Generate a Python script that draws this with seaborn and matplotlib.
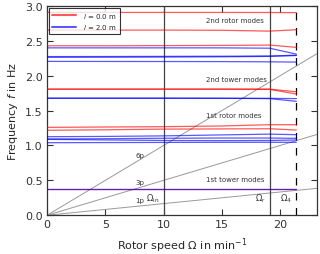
import numpy as np
import pandas as pd
import matplotlib
matplotlib.use('Agg')
import matplotlib.pyplot as plt
import seaborn as sns

# --- data ---
omega = [0, 5, 10, 15, 19.1, 21.4]

# l = 0.0 m
red_modes = {
    'r_t1': [0.38, 0.38, 0.38, 0.38, 0.38, 0.38],
    'r_r1a': [1.26, 1.265, 1.27, 1.28, 1.298, 1.298],
    'r_r1b': [1.218, 1.225, 1.235, 1.238, 1.24, 1.222],
    'r_t2a': [1.808, 1.808, 1.808, 1.808, 1.808, 1.77],
    'r_t2b': [1.808, 1.808, 1.808, 1.808, 1.805, 1.738],
    'r_r2a': [2.43, 2.43, 2.432, 2.435, 2.44, 2.407],
    'r_r2b': [2.655, 2.655, 2.655, 2.652, 2.64, 2.66],
    'r_r2c': [2.908, 2.908, 2.908, 2.908, 2.907, 2.905],
}
# l = 2.0 m
blue_modes = {
    'b_t1': [0.381, 0.381, 0.381, 0.381, 0.381, 0.381],
    'b_r1a': [1.126, 1.13, 1.138, 1.152, 1.163, 1.155],
    'b_r1b': [1.093, 1.097, 1.104, 1.107, 1.107, 1.103],
    'b_r1c': [1.088, 1.08, 1.072, 1.07, 1.072, 1.079],
    'b_r1d': [1.04, 1.042, 1.044, 1.046, 1.046, 1.046],
    'b_t2a': [1.676, 1.676, 1.676, 1.676, 1.676, 1.672],
    'b_t2b': [1.68, 1.68, 1.68, 1.678, 1.672, 1.633],
    'b_r2a': [2.206, 2.205, 2.204, 2.203, 2.2, 2.196],
    'b_r2b': [2.265, 2.266, 2.268, 2.272, 2.278, 2.29],
    'b_r2c': [2.275, 2.276, 2.278, 2.28, 2.283, 2.295],
    'b_r2d': [2.40, 2.40, 2.40, 2.40, 2.395, 2.31],
}

harmonics = [1, 3, 6]
harmonic_labels = ['1p', '3p', '6p']
omega_marks = [10.0, 19.1, 21.4]
omega_labels = [r'$\Omega_{\rm in}$', r'$\Omega_{\rm r}$', r'$\Omega_{4}$']
mode_labels = ['1st tower modes', '1st rotor modes', '2nd tower modes', '2nd rotor modes']
mode_label_y = [0.515, 1.435, 1.95, 2.80]

# --- style ---
sns.set_style('ticks')
plt.rcParams['font.family'] = ['DejaVu Sans']
plt.rcParams.update({
    'xtick.direction': 'in', 'ytick.direction': 'in',
    'xtick.top': True, 'ytick.right': True,
    'axes.edgecolor': '#333333', 'axes.linewidth': 0.9,
    'xtick.color': '#333333', 'ytick.color': '#333333',
    'xtick.major.size': 4, 'ytick.major.size': 4,
})

fig = plt.figure(figsize=(3.2, 2.55), dpi=100)
ax = fig.add_axes([0.147, 0.152, 0.843, 0.8205])

# harmonic excitation lines
om_full = np.array([0, 23.15])
for n, lab in zip(harmonics, harmonic_labels):
    ax.plot(om_full, n * om_full / 60, color='#999999', lw=0.7, zorder=1)
    ax.text(7.6, n * 7.6 / 60 + 0.07, lab, fontsize=5, color='#333333')

# modes
for i, (k, v) in enumerate(red_modes.items()):
    sns.lineplot(x=omega, y=v, ax=ax, color='red', lw=0.9, alpha=0.65,
                 label=r'$l$ = 0.0 m' if i == 0 else None, zorder=3)
for i, (k, v) in enumerate(blue_modes.items()):
    sns.lineplot(x=omega, y=v, ax=ax, color='blue', lw=0.9, alpha=0.65,
                 label=r'$l$ = 2.0 m' if i == 0 else None, zorder=3)

# operating points
ax.axvline(omega_marks[0], color='#444444', lw=0.9, zorder=2)
ax.axvline(omega_marks[1], color='#444444', lw=0.9, zorder=2)
ax.axvline(omega_marks[2], color='black', lw=0.9, ls=(0, (6, 6)), zorder=2)
for xm, lab in zip(omega_marks, omega_labels):
    ax.text(xm - 0.35, 0.25, lab, fontsize=6, color='#333333', ha='right', va='center')

for lab, y in zip(mode_labels, mode_label_y):
    ax.text(13.6, y, lab, fontsize=5, color='#333333', va='center')

ax.set_xlim(0, 23.15)
ax.set_ylim(0, 3.0)
ax.set_xticks([0, 5, 10, 15, 20])
ax.set_yticks([0, 0.5, 1.0, 1.5, 2.0, 2.5, 3.0])
ax.set_yticklabels(['0.0', '0.5', '1.0', '1.5', '2.0', '2.5', '3.0'])
ax.tick_params(labelsize=8, pad=3)
ax.set_xlabel(r'Rotor speed $\Omega$ in min$^{-1}$', fontsize=8)
ax.set_ylabel(r'Frequency $f$ in Hz', fontsize=8)

leg = ax.legend(loc='upper left', fontsize=5, frameon=True, fancybox=False,
                edgecolor='black', handlelength=3.5, borderpad=0.4,
                labelspacing=0.35, handletextpad=1.0, borderaxespad=0.3)
leg.get_frame().set_linewidth(0.8)
for h in leg.get_lines():
    h.set_linewidth(1.5)

fig.savefig('out.png', dpi=100)
